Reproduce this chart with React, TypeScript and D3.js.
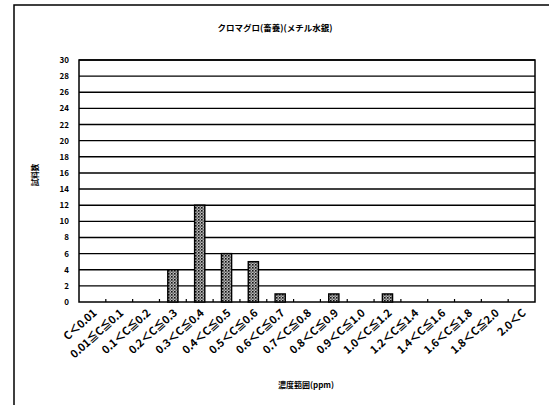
import * as d3 from 'd3';
import React, { useRef, useEffect } from 'react';

const categories = [
    'C＜0.01',
    '0.01≦C≦0.1',
    '0.1＜C≦0.2',
    '0.2＜C≦0.3',
    '0.3＜C≦0.4',
    '0.4＜C≦0.5',
    '0.5＜C≦0.6',
    '0.6＜C≦0.7',
    '0.7＜C≦0.8',
    '0.8＜C≦0.9',
    '0.9＜C≦1.0',
    '1.0＜C≦1.2',
    '1.2＜C≦1.4',
    '1.4＜C≦1.6',
    '1.6＜C≦1.8',
    '1.8＜C≦2.0',
    '2.0＜C',
];
const counts = [0, 0, 0, 4, 12, 6, 5, 1, 0, 1, 0, 1, 0, 0, 0, 0, 0];
const yTicks = [0, 2, 4, 6, 8, 10, 12, 14, 16, 18, 20, 22, 24, 26, 28, 30];

const title = 'クロマグロ(畜養)(メチル水銀)';
const yTitle = '試料数';
const xTitle = '濃度範囲(ppm)';

const W = 549;
const H = 405;
const FONT = '"Noto Sans CJK JP", "DejaVu Sans", sans-serif';

export default function App() {
    const ref = useRef<SVGSVGElement | null>(null);

    useEffect(() => {
        const svg = d3.select(ref.current);
        svg.selectAll('*').remove();

        const left = 79, right = 535, top = 60, bottom = 302;

        const x = d3.scaleBand().domain(categories).range([left, right]).paddingInner(0.62).paddingOuter(0.31);
        const y = d3.scaleLinear().domain([0, 30]).range([bottom, top]);

        // halftone-like fill
        const defs = svg.append('defs');
        const pat = defs.append('pattern')
            .attr('id', 'dots')
            .attr('width', 3).attr('height', 3)
            .attr('patternUnits', 'userSpaceOnUse');
        pat.append('rect').attr('width', 3).attr('height', 3).attr('fill', '#bbb');
        pat.append('rect').attr('x', 0).attr('y', 0).attr('width', 1.6).attr('height', 1.6).attr('fill', '#111');
        pat.append('rect').attr('x', 1.5).attr('y', 1.5).attr('width', 1.3).attr('height', 1.3).attr('fill', '#444');

        svg.append('rect').attr('width', W).attr('height', H).attr('fill', '#fff');

        // outer frame
        svg.append('rect')
            .attr('x', 14).attr('y', 5)
            .attr('width', W).attr('height', H)
            .attr('fill', 'none').attr('stroke', '#000').attr('stroke-width', 1.5);

        // grid
        svg.append('g')
            .selectAll('line')
            .data(yTicks.filter((t) => t > 0))
            .join('line')
            .attr('x1', left).attr('x2', right)
            .attr('y1', (d) => y(d)).attr('y2', (d) => y(d))
            .attr('stroke', '#000').attr('stroke-width', 1.4);

        // plot frame
        svg.append('rect')
            .attr('x', left).attr('y', top)
            .attr('width', right - left).attr('height', bottom - top)
            .attr('fill', 'none').attr('stroke', '#000').attr('stroke-width', 1.5);

        // y tick labels
        svg.append('g')
            .selectAll('text')
            .data(yTicks)
            .join('text')
            .attr('x', left - 10)
            .attr('y', (d) => y(d) + 3)
            .attr('text-anchor', 'end')
            .style('font-family', FONT)
            .style('font-weight', 'bold')
            .style('font-size', '8px')
            .text((d) => d);

        // x ticks (between categories)
        const step = x.step();
        svg.append('g')
            .selectAll('line')
            .data(categories.slice(1))
            .join('line')
            .attr('x1', (d) => (x(d) as number) - step * 0.31)
            .attr('x2', (d) => (x(d) as number) - step * 0.31)
            .attr('y1', bottom).attr('y2', bottom - 3)
            .attr('stroke', '#000').attr('stroke-width', 1.2);

        // bars
        svg.append('g')
            .selectAll('rect')
            .data(categories.map((c, i) => ({ c, v: counts[i] })).filter((d) => d.v > 0))
            .join('rect')
            .attr('x', (d) => x(d.c) as number)
            .attr('y', (d) => y(d.v))
            .attr('width', x.bandwidth())
            .attr('height', (d) => bottom - y(d.v))
            .attr('fill', 'url(#dots)')
            .attr('stroke', '#000').attr('stroke-width', 1.4);

        // x tick labels rotated
        svg.append('g')
            .selectAll('text')
            .data(categories)
            .join('text')
            .attr('transform', (d) => `translate(${(x(d) as number) + x.bandwidth() / 2 + 5},${bottom + 12}) rotate(-42)`)
            .attr('text-anchor', 'end')
            .style('font-family', FONT)
            .style('font-weight', 'bold')
            .style('font-size', '11px')
            .style('letter-spacing', '-0.2px')
            .text((d) => d);

        svg.append('text')
            .attr('x', 275).attr('y', 31)
            .attr('text-anchor', 'middle')
            .style('font-family', FONT)
            .style('font-weight', 'bold')
            .style('font-size', '8.5px')
            .text(title);

        svg.append('text')
            .attr('transform', `translate(38,175) rotate(-90)`)
            .attr('text-anchor', 'middle')
            .style('font-family', FONT)
            .style('font-weight', 'bold')
            .style('font-size', '7.5px')
            .text(yTitle);

        svg.append('text')
            .attr('x', 306).attr('y', 388)
            .attr('text-anchor', 'middle')
            .style('font-family', FONT)
            .style('font-weight', 'bold')
            .style('font-size', '8px')
            .text(xTitle);
    }, []);

    return (
        <svg
            ref={ref}
            width={W}
            height={H}
            style={{ position: 'absolute', left: 0, top: 0, display: 'block' }}
        />
    );
}
